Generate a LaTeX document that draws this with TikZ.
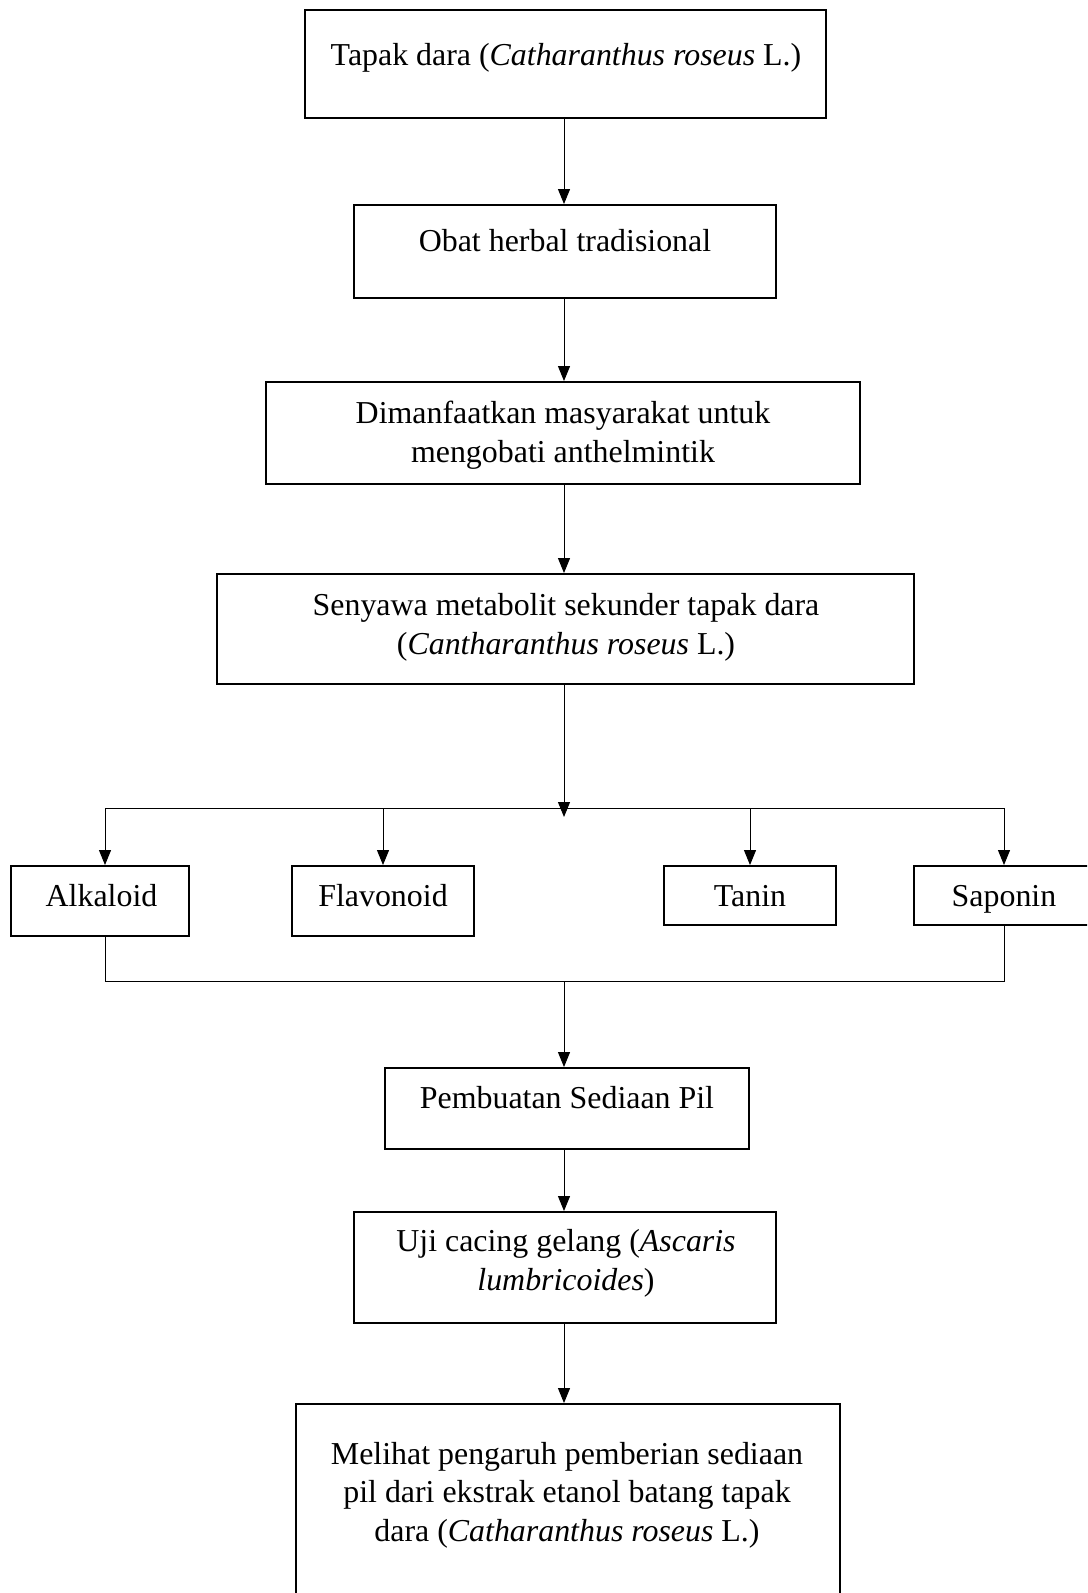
\documentclass[tikz,border=0pt]{standalone}
\usepackage{fontspec}
\setmainfont{Liberation Serif}
\usetikzlibrary{arrows.meta}
\begin{document}
\begin{tikzpicture}[x=1pt,y=-1pt,
  box/.style={draw=black,line width=1.9pt,rectangle,inner sep=0pt},
  txt/.style={align=center,inner sep=0pt,font=\fontsize{31.9}{38.6}\selectfont},
  conn/.style={draw=black,line width=1pt},
  arr/.style={conn,-{Triangle[length=15pt,width=12pt]}}]
\useasboundingbox[fill=white] (0,0) rectangle (1087,1593);
\begin{scope}
\clip (0,0) rectangle (1087,1593);
\coordinate (sp) at (564,0);
% boxes
\node[box,minimum width=521pt,minimum height=108pt] (b1) at (565.5,64) {};
\node[box,minimum width=422pt,minimum height=93pt] (b2) at (565,251.5) {};
\node[box,minimum width=594pt,minimum height=102pt] (b3) at (563,433) {};
\node[box,minimum width=697pt,minimum height=110pt] (b4) at (565.5,629) {};
\node[box,minimum width=178pt,minimum height=70pt] (alk) at (100,901) {};
\node[box,minimum width=182pt,minimum height=70pt] (fla) at (383,901) {};
\node[box,minimum width=172pt,minimum height=59pt] (tan) at (750,895.5) {};
\node[box,minimum width=181pt,minimum height=59pt] (sap) at (1004.5,895.5) {};
\node[box,minimum width=364pt,minimum height=81pt] (b5) at (567,1108.5) {};
\node[box,minimum width=422pt,minimum height=111pt] (b6) at (565,1267.5) {};
\node[box,minimum width=544pt,minimum height=230pt] (b7) at (568,1519) {};
% texts
\node[txt] (t1) at (566,58) {\strut Tapak dara (\textit{Catharanthus roseus} L.)};
\node[txt] (t2) at (565,244) {\strut Obat herbal tradisional};
\node[txt] (t3) at (563,435) {\strut Dimanfaatkan masyarakat untuk\\\strut mengobati anthelmintik};
\node[txt] (t4) at (566,627) {\strut Senyawa metabolit sekunder tapak dara\\\strut (\textit{Cantharanthus roseus} L.)};
\node[txt] (ta) at (101.5,899) {\strut Alkaloid};
\node[txt] (tf) at (383,899) {\strut Flavonoid};
\node[txt] (tt) at (750,899) {\strut Tanin};
\node[txt] (ts) at (1004,899) {\strut Saponin};
\node[txt] (t5) at (567,1101) {\strut Pembuatan Sediaan Pil};
\node[txt] (t6) at (566,1263) {\strut Uji cacing gelang (\textit{Ascaris}\\\strut \textit{lumbricoides})};
\node[txt] (t7) at (567,1495) {\strut Melihat pengaruh pemberian sediaan\\\strut pil dari ekstrak etanol batang tapak\\\strut dara (\textit{Catharanthus roseus} L.)};
% spine connectors
\draw[arr] (b1.south -| sp) -- (b2.north -| sp);
\draw[arr] (b2.south -| sp) -- (b3.north -| sp);
\draw[arr] (b3.south -| sp) -- (b4.north -| sp);
% split
\coordinate (hl) at (105,808);
\coordinate (hr) at (1004,808);
\coordinate (tip) at (564,817);
\draw[arr] (b4.south -| sp) -- (tip);
\draw[conn] (hl) -- (hr);
\draw[arr] (hl) -- (hl |- alk.north);
\draw[arr] (fla.north |- hl) -- (fla.north);
\draw[arr] (tan.north |- hl) -- (tan.north);
\draw[arr] (hr) -- (hr |- sap.north);
% join
\coordinate (jl) at (105,981);
\coordinate (jr) at (1004,981);
\coordinate (jm) at (564,981);
\draw[conn] (jl |- alk.south) -- (jl) -- (jr) -- (jr |- sap.south);
\draw[arr] (jm) -- (b5.north -| jm);
\draw[arr] (b5.south -| sp) -- (b6.north -| sp);
\draw[arr] (b6.south -| sp) -- (b7.north -| sp);
\end{scope}
\end{tikzpicture}
\end{document}
